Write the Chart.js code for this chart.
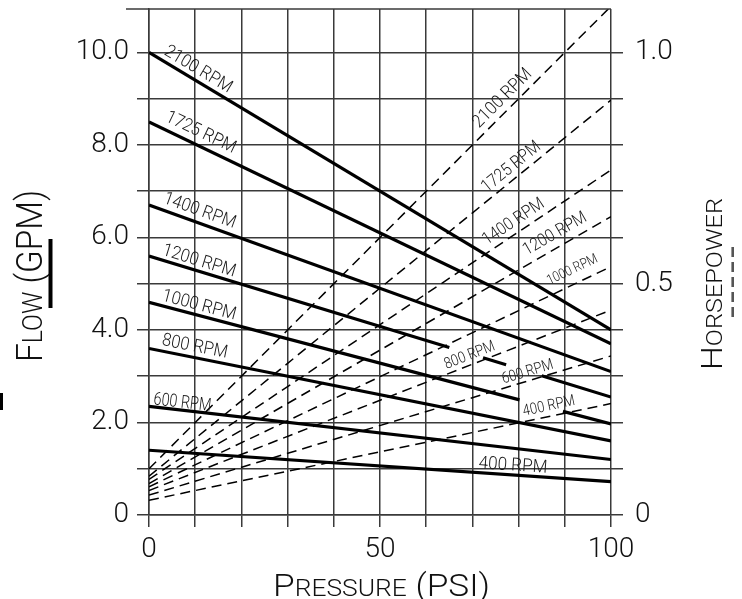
<!DOCTYPE html>
<html><head><meta charset="utf-8">
<script src="https://cdn.jsdelivr.net/npm/chart.js@4"></script>
<style>html,body{margin:0;padding:0;background:#fff}</style>
</head><body>
<canvas id="c" width="742" height="599"></canvas>
<script>
// ---- data ----
const rpms = ['2100','1725','1400','1200','1000','800','600','400'];
// Flow (GPM) vs pressure (PSI): [psi, gpm]; null = gap left for a label
const flow2100 = [[0,10.0],[100,4.0]];
const flow1725 = [[0,8.5],[100,3.7]];
const flow1400 = [[0,6.7],[100,3.1]];
const flow1200 = [[0,5.6],[65,3.62],[68,null],[72.3,3.40],[77.3,3.25],[80,null],[85,3.01],[100,2.55]];
const flow1000 = [[0,4.6],[80.2,2.49],[85,null],[89.6,2.24],[100,1.97]];
const flow800  = [[0,3.6],[100,1.6]];
const flow600  = [[0,2.35],[100,1.2]];
const flow400  = [[0,1.4],[100,0.72]];
// Horsepower vs pressure: [psi, hp]
const hp2100 = [[0,0.100],[100,1.100]];
const hp1725 = [[0,0.084],[100,0.897]];
const hp1400 = [[0,0.077],[100,0.746]];
const hp1200 = [[0,0.068],[100,0.645]];
const hp1000 = [[0,0.061],[100,0.537]];
const hp800  = [[0,0.053],[100,0.443]];
const hp600  = [[0,0.043],[100,0.344]];
const hp400  = [[0,0.032],[100,0.241]];
// tick labels
const psiTickValues = [0,10,20,30,40,50,60,70,80,90,100];
const psiTickLabels = {0:'0',50:'50',100:'100'};
const flowTickValues = [0,1,2,3,4,5,6,7,8,9,10];
const flowTickLabels = {0:'0',2:'2.0',4:'4.0',6:'6.0',8:'8.0',10:'10.0'};
const hpTickValues = [0,0.1,0.2,0.3,0.4,0.5,0.6,0.7,0.8,0.9,1.0];
const hpTickLabels = {'0':'0','0.5':'0.5','1':'1.0'};
const flowMax = 10.94, hpMax = 1.094;

// ---- labels along the curves (anchor: psi along the curve, perpendicular offset) ----
const curveLabels = [
  {t:'2100 RPM', ds:0, psi:2.4, off:6, size:18, sx:0.92},
  {t:'1725 RPM', ds:1, psi:2.6, off:8, size:18, sx:0.92},
  {t:'1400 RPM', ds:2, psi:2.4, off:7, size:18, sx:0.92},
  {t:'1200 RPM', ds:3, psi:2.4, off:5, size:18, sx:0.92},
  {t:'1000 RPM', ds:4, psi:2.4, off:5, size:18, sx:0.92},
  {t:'800 RPM',  ds:5, psi:2.4, off:6, size:18, sx:0.92},
  {t:'600 RPM',  ds:6, psi:0.8, off:2.5, size:18, sx:0.8},
  {t:'400 RPM',  ds:7, psi:71.2, off:4.5, size:18, sx:0.95},
  {t:'2100 RPM', ds:8, psi:72.5, off:7, size:18, sx:0.92},
  {t:'1725 RPM', ds:9, psi:74, off:6.5, size:17.5, sx:0.88},
  {t:'1400 RPM', ds:10, psi:73.9, off:6.5, size:17.5, sx:0.88},
  {t:'1200 RPM', ds:11, psi:82.7, off:8.5, size:17.5, sx:0.88},
  {t:'1000 RPM', ds:12, psi:87.6, off:10, size:14, sx:0.85},
  {t:'800 RPM',  ds:13, psi:64.8, off:5, size:15.5, sx:0.85},
  {t:'600 RPM',  ds:14, psi:77, off:4.5, size:15.5, sx:0.85},
  {t:'400 RPM',  ds:15, psi:81.4, off:6, size:15.5, sx:0.85}
];

const FONT = 'Roboto';
const GRID = '#3a3a3a';
const toXY = a => a.map(p => ({x:p[0], y:p[1]}));
const flows = [flow2100,flow1725,flow1400,flow1200,flow1000,flow800,flow600,flow400];
const hps = [hp2100,hp1725,hp1400,hp1200,hp1000,hp800,hp600,hp400];

const datasets = [];
flows.forEach((f,i) => datasets.push({label: rpms[i]+' RPM flow', data: toXY(f), yAxisID:'y',
  borderColor:'#000', borderWidth:3.2, spanGaps:false, pointRadius:0, borderCapStyle:'butt'}));
hps.forEach((h,i) => datasets.push({label: rpms[i]+' RPM hp', data: toXY(h), yAxisID:'y1',
  borderColor:'#000', borderWidth:1.5, borderDash:[10,6], pointRadius:0}));

function noPad(s){ s.paddingTop=0; s.paddingBottom=0; s.paddingLeft=0; s.paddingRight=0; }

function drawSmallCaps(ctx, parts, cx, cy, rot, width){
  ctx.save();
  ctx.translate(cx, cy); ctx.rotate(rot);
  let total = 0; const ws = [];
  parts.forEach(p => { ctx.font = `300 ${p[1]}px ${FONT}`; const w = ctx.measureText(p[0]).width; ws.push(w); total += w; });
  ctx.scale(width/total, 1);
  let x = -total/2;
  ctx.textBaseline='alphabetic'; ctx.textAlign='left'; ctx.fillStyle='#111';
  parts.forEach((p,i) => { ctx.font = `300 ${p[1]}px ${FONT}`; ctx.fillText(p[0], x, 0); x += ws[i]; });
  ctx.restore();
}

const decor = {
  id:'decor',
  afterDraw(chart){
    const ctx = chart.ctx, ca = chart.chartArea, xs = chart.scales.x;
    ctx.save();
    // top frame line
    ctx.strokeStyle = GRID; ctx.lineWidth = 1.5;
    ctx.beginPath(); ctx.moveTo(126, ca.top); ctx.lineTo(ca.right, ca.top); ctx.stroke();
    // curve labels
    ctx.fillStyle = '#1a1a1a';
    curveLabels.forEach(l => {
      const pts = chart.getDatasetMeta(l.ds).data.filter(p => !p.skip);
      const p0 = pts[0], p1 = pts[pts.length-1];
      const ang = Math.atan2(p1.y-p0.y, p1.x-p0.x);
      const px = xs.getPixelForValue(l.psi);
      const py = p0.y + (px-p0.x)/(p1.x-p0.x)*(p1.y-p0.y);
      ctx.save();
      ctx.translate(px, py); ctx.rotate(ang); ctx.translate(0, -l.off); ctx.scale(l.sx, 1);
      ctx.font = `300 ${l.size}px ${FONT}`; ctx.textAlign='left'; ctx.textBaseline='alphabetic';
      ctx.fillText(l.t, 0, 0);
      ctx.restore();
    });
    // axis titles
    drawSmallCaps(ctx, [['F',36],['LOW',27],[' (GPM)',36]], 41.5, 276, -Math.PI/2, 172);
    drawSmallCaps(ctx, [['P',32],['RESSURE',24],[' (PSI)',32]], 381.5, 595.5, 0, 217);
    drawSmallCaps(ctx, [['H',30],['ORSEPOWER',22.5]], 721.5, 284, -Math.PI/2, 172);
    // legend bars under titles
    ctx.strokeStyle = '#000'; ctx.lineWidth = 4;
    ctx.beginPath(); ctx.moveTo(50.5, 239); ctx.lineTo(50.5, 308); ctx.stroke();
    ctx.strokeStyle = '#555'; ctx.lineWidth = 2.6; ctx.setLineDash([10,5]);
    ctx.beginPath(); ctx.moveTo(732.7, 247); ctx.lineTo(732.7, 317); ctx.stroke();
    ctx.setLineDash([]);
    ctx.fillStyle = '#000'; ctx.fillRect(0, 393, 3, 17);
    ctx.restore();
  }
};

new Chart(document.getElementById('c'), {
  type:'line',
  data:{datasets},
  plugins:[decor],
  options:{
    responsive:false, animation:false, devicePixelRatio:1,
    layout:{padding:{top:9,left:0,right:0,bottom:0}},
    plugins:{legend:{display:false}, tooltip:{enabled:false}},
    elements:{line:{tension:0}, point:{radius:0}},
    scales:{
      x:{type:'linear', position:'bottom', min:0, max:100,
        afterBuildTicks(s){ s.ticks = psiTickValues.map(v=>({value:v})); },
        afterFit(s){ s.height = 84; noPad(s); },
        grid:{color:GRID, lineWidth:1.5, tickLength:12, drawTicks:true},
        border:{display:true, color:GRID, width:1.5},
        ticks:{autoSkip:false, maxRotation:0, padding:6, color:'#111',
          font:{family:FONT, size:28, weight:'300'},
          callback:v => psiTickLabels[v] ?? ''}
      },
      y:{type:'linear', position:'left', min:0, max:flowMax,
        afterBuildTicks(s){ s.ticks = flowTickValues.map(v=>({value:v})); },
        afterFit(s){ s.width = 149; noPad(s); },
        grid:{color:GRID, lineWidth:1.5, tickLength:12, drawTicks:true},
        border:{display:true, color:GRID, width:1.5},
        ticks:{autoSkip:false, padding:8, color:'#111',
          font:{family:FONT, size:28, weight:'300'},
          callback:v => flowTickLabels[v] ?? ''}
      },
      y1:{type:'linear', position:'right', min:0, max:hpMax,
        afterBuildTicks(s){ s.ticks = hpTickValues.map(v=>({value:v})); },
        afterFit(s){ s.width = 131; noPad(s); },
        grid:{drawOnChartArea:false, color:GRID, lineWidth:1.5, tickLength:12, drawTicks:true},
        border:{display:false},
        ticks:{autoSkip:false, padding:12, color:'#111',
          font:{family:FONT, size:28, weight:'300'},
          callback:v => hpTickLabels[String(Math.round(v*10)/10)] ?? ''}
      }
    }
  }
});
</script>
</body></html>
